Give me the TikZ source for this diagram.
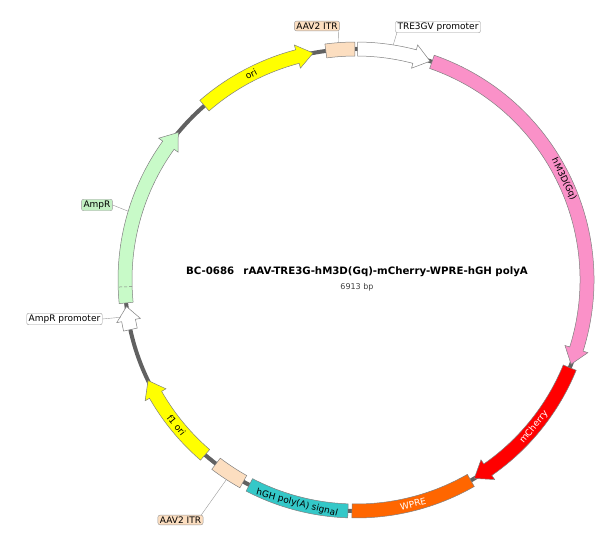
\documentclass[tikz,border=0pt]{standalone}
\usepackage{fontspec}
\setmainfont{DejaVu Sans}
\definecolor{oriyel}{RGB}{255,255,0}
\definecolor{hmpink}{RGB}{250,145,200}
\definecolor{mchred}{RGB}{255,0,0}
\definecolor{wpreor}{RGB}{255,102,0}
\definecolor{hghcy}{RGB}{52,200,200}
\definecolor{itrcol}{RGB}{252,222,192}
\definecolor{ampgr}{RGB}{200,250,200}
\definecolor{amplblgr}{RGB}{194,240,194}
\newcommand{\plasarrow}[4]{%
  \filldraw[feat, fill=#3] (#1:238) arc[start angle=#1, end angle={#2+#4}, radius=238]
    -- ({#2+#4}:243) -- (#2:231) -- ({#2+#4}:219) -- ({#2+#4}:224)
    arc[start angle={#2+#4}, end angle=#1, radius=224] -- cycle;}
\newcommand{\plasbox}[3]{%
  \filldraw[feat, fill=#3] (#1:238) arc[start angle=#1, end angle=#2, radius=238]
    -- (#2:224) arc[start angle=#2, end angle=#1, radius=224] -- cycle;}
\tikzset{
  feat/.style={draw=black!50, line width=0.5pt},
  backbone/.style={draw=black!62, line width=4pt},
  callout/.style={draw=black!40, rounded corners=2pt, inner xsep=2pt, inner ysep=1.5pt, font=\fontsize{9}{10}\selectfont},
  lead/.style={draw=black!40, line width=0.4pt},
  inlbl/.style={font=\fontsize{9}{10}\selectfont, inner sep=0pt}
}
\begin{document}
\begin{tikzpicture}[x=1pt,y=1pt]
\useasboundingbox (-356,-254) rectangle (244,280);
\draw[backbone] (0,0) circle[radius=231];
\plasarrow{131}{100.7}{oriyel}{4}
\plasbox{97.5}{90.3}{itrcol}
\plasarrow{89.6}{71.3}{white}{4}
\plasarrow{70.8}{-21.4}{hmpink}{4}
\plasarrow{-22.3}{-59.2}{mchred}{4}
\plasbox{-60.2}{-91}{wpreor}
\plasbox{-92}{-117.5}{hghcy}
\plasbox{-119.2}{-127.3}{itrcol}
\plasarrow{-130.8}{-154.2}{oriyel}{4}
\plasarrow{-167.6}{-173.4}{white}{3.5}
\plasarrow{185.7}{140.3}{ampgr}{4}
\draw[feat, densely dashed] (181.7:224) -- (181.7:238);
\node[inlbl, rotate=27] (orilbl) at (117:231) {ori};
\node[inlbl, rotate=-64] (hmlbl) at (25.8:231) {hM3D(Gq)};
\node[inlbl, rotate=50.4, text=white] (mchlbl) at (-39.6:231) {mCherry};
\node[inlbl, rotate=14.3, text=white] (wprelbl) at (-75.7:231) {WPRE};
\node[inlbl, rotate=-14.8] (hghlbl) at (-104.8:231) {hGH poly(A) signal};
\node[inlbl, rotate=-51] (f1lbl) at (-141:231) {f1 ori};
\node[callout, fill=itrcol] (itrtoplbl) at (-39,254) {AAV2 ITR};
\coordinate (itrtop) at (94.2:238);
\draw[lead] ([xshift=-1.5pt]itrtoplbl.south east) -- (itrtop);
\node[callout, fill=white] (trelbl) at (82,253) {TRE3GV promoter};
\coordinate (tre) at (81:238);
\draw[lead] ([xshift=1.5pt]trelbl.south west) -- (tre);
\node[callout, fill=amplblgr] (amplbl) at (-259,75) {AmpR};
\coordinate (amp) at (163.2:238);
\draw[lead] (amplbl.east) -- (amp);
\node[callout, fill=white] (ampprlbl) at (-291.5,-39) {AmpR promoter};
\coordinate (ampprom) at (189:238);
\draw[lead] (ampprlbl.east) -- (ampprom);
\node[callout, fill=itrcol] (itrbotlbl) at (-175.5,-240) {AAV2 ITR};
\coordinate (itrbot) at (-123:238);
\draw[lead] ([xshift=-2pt]itrbotlbl.north east) -- (itrbot);
\node[font=\bfseries\fontsize{10.2}{12}\selectfont] (title) at (1,8) {BC-0686\hspace{0.9em}rAAV-TRE3G-hM3D(Gq)-mCherry-WPRE-hGH polyA};
\node[font=\fontsize{8}{9}\selectfont, text=black!75] (bp) at (1,-7) {6913 bp};
\end{tikzpicture}
\end{document}
